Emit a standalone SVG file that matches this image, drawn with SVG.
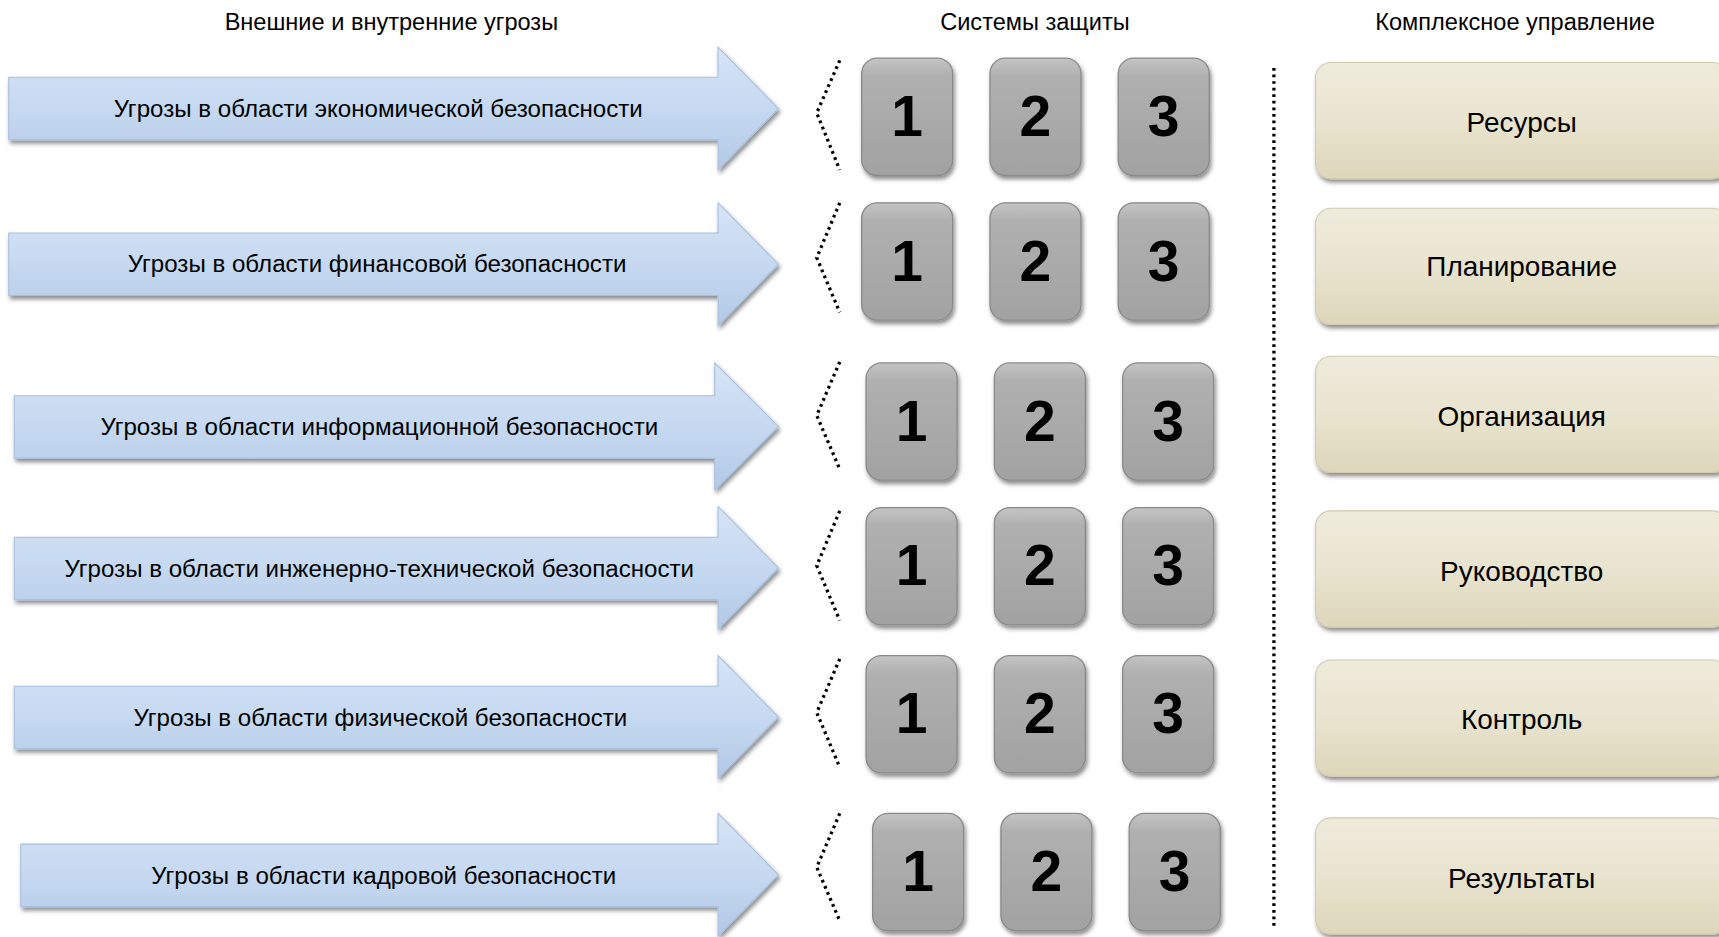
<svg xmlns="http://www.w3.org/2000/svg" width="1719" height="937" viewBox="0 0 1719 937">
<style>
.hdr{font-family:"Liberation Sans",Arial,sans-serif;font-size:21.5px;fill:#000;text-anchor:middle}
.atxt{font-family:"Liberation Sans",Arial,sans-serif;font-size:22px;fill:#000;text-anchor:middle}
.btxt{font-family:"Liberation Sans",Arial,sans-serif;font-size:25.5px;fill:#000;text-anchor:middle}
.num{font-family:"Liberation Sans",Arial,sans-serif;font-weight:bold;font-size:52px;fill:#000;text-anchor:middle}
.arrow{fill:url(#gArrow);stroke:#a7bfdf;stroke-width:1;filter:url(#sh)}
.gbox{fill:url(#gGray);stroke:#8a8a8a;stroke-width:1.2;filter:url(#sh)}
.bbox{fill:url(#gBeige);stroke:#d2cbb0;stroke-width:1;filter:url(#sh)}
.dots{fill:none;stroke:#000;stroke-width:3;stroke-dasharray:2.5 3.5}
</style>
<defs>
<linearGradient id="gArrow" x1="0" y1="0" x2="0" y2="1">
<stop offset="0" stop-color="#d6e4f5"/>
<stop offset="0.5" stop-color="#c6d9f1"/>
<stop offset="1" stop-color="#b2c8e5"/>
</linearGradient>
<linearGradient id="gGray" x1="0" y1="0" x2="0" y2="1">
<stop offset="0" stop-color="#c4c4c4"/>
<stop offset="0.15" stop-color="#b0b0b0"/>
<stop offset="1" stop-color="#a2a2a2"/>
</linearGradient>
<linearGradient id="gBeige" x1="0" y1="0" x2="0" y2="1">
<stop offset="0" stop-color="#efebdc"/>
<stop offset="0.5" stop-color="#e9e4cf"/>
<stop offset="1" stop-color="#ddd6ba"/>
</linearGradient>
<filter id="sh" x="-10%" y="-20%" width="130%" height="150%">
<feDropShadow dx="1.5" dy="3" stdDeviation="2" flood-color="#000" flood-opacity="0.45"/>
</filter>
</defs>
<rect width="1719" height="937" fill="#fff"/>
<g transform="scale(1.0963)">
<g id="headers">
<text class="hdr" x="357" y="27">Внешние и внутренние угрозы</text>
<text class="hdr" x="944" y="27">Системы защиты</text>
<text class="hdr" x="1382" y="27">Комплексное управление</text>
</g>

<g id="threat-1">
<path class="arrow" d="M8,70.5 H655 V43 L710,99 L655,155 V127.5 H8 Z"/>
<text class="atxt" x="345" y="106.5">Угрозы в области экономической безопасности</text>
</g>
<g id="threat-2">
<path class="arrow" d="M8,212.5 H655 V185 L710,241 L655,297 V269.5 H8 Z"/>
<text class="atxt" x="344" y="248.5">Угрозы в области финансовой безопасности</text>
</g>
<g id="threat-3">
<path class="arrow" d="M13,361 H652 V331 L710,389 L652,447 V418 H13 Z"/>
<text class="atxt" x="346" y="397">Угрозы в области информационной безопасности</text>
</g>
<g id="threat-4">
<path class="arrow" d="M13,490 H655 V462 L710,518 L655,574 V547 H13 Z"/>
<text class="atxt" x="346" y="526">Угрозы в области инженерно-технической безопасности</text>
</g>
<g id="threat-5">
<path class="arrow" d="M13,626 H655 V598 L710,654 L655,710 V683 H13 Z"/>
<text class="atxt" x="347" y="662">Угрозы в области физической безопасности</text>
</g>
<g id="threat-6">
<path class="arrow" d="M19,770 H655 V742 L710,798 L655,854 V827 H19 Z"/>
<text class="atxt" x="350" y="806">Угрозы в области кадровой безопасности</text>
</g>

<g id="connectors">
<polyline class="dots" points="766,55 745,103 766,155"/>
<polyline class="dots" points="766,185 745,235 766,285"/>
<polyline class="dots" points="766,330 745,379 766,428"/>
<polyline class="dots" points="766,466 745,516 766,566"/>
<polyline class="dots" points="766,601 745,650 766,700"/>
<polyline class="dots" points="766,742 745,791 766,840"/>
<line class="dots" x1="1162" y1="62" x2="1162" y2="846"/>
</g>

<g id="sys-1">
<rect class="gbox" x="786" y="53" width="83" height="107" rx="14"/><text class="num" x="827.5" y="124">1</text>
<rect class="gbox" x="903" y="53" width="83" height="107" rx="14"/><text class="num" x="944.5" y="124">2</text>
<rect class="gbox" x="1020" y="53" width="83" height="107" rx="14"/><text class="num" x="1061.5" y="124">3</text>
</g>
<g id="sys-2">
<rect class="gbox" x="786" y="185" width="83" height="107" rx="14"/><text class="num" x="827.5" y="256">1</text>
<rect class="gbox" x="903" y="185" width="83" height="107" rx="14"/><text class="num" x="944.5" y="256">2</text>
<rect class="gbox" x="1020" y="185" width="83" height="107" rx="14"/><text class="num" x="1061.5" y="256">3</text>
</g>
<g id="sys-3">
<rect class="gbox" x="790" y="331" width="83" height="107" rx="14"/><text class="num" x="831.5" y="402">1</text>
<rect class="gbox" x="907" y="331" width="83" height="107" rx="14"/><text class="num" x="948.5" y="402">2</text>
<rect class="gbox" x="1024" y="331" width="83" height="107" rx="14"/><text class="num" x="1065.5" y="402">3</text>
</g>
<g id="sys-4">
<rect class="gbox" x="790" y="463" width="83" height="107" rx="14"/><text class="num" x="831.5" y="534">1</text>
<rect class="gbox" x="907" y="463" width="83" height="107" rx="14"/><text class="num" x="948.5" y="534">2</text>
<rect class="gbox" x="1024" y="463" width="83" height="107" rx="14"/><text class="num" x="1065.5" y="534">3</text>
</g>
<g id="sys-5">
<rect class="gbox" x="790" y="598" width="83" height="107" rx="14"/><text class="num" x="831.5" y="669">1</text>
<rect class="gbox" x="907" y="598" width="83" height="107" rx="14"/><text class="num" x="948.5" y="669">2</text>
<rect class="gbox" x="1024" y="598" width="83" height="107" rx="14"/><text class="num" x="1065.5" y="669">3</text>
</g>
<g id="sys-6">
<rect class="gbox" x="796" y="742" width="83" height="107" rx="14"/><text class="num" x="837.5" y="813">1</text>
<rect class="gbox" x="913" y="742" width="83" height="107" rx="14"/><text class="num" x="954.5" y="813">2</text>
<rect class="gbox" x="1030" y="742" width="83" height="107" rx="14"/><text class="num" x="1071.5" y="813">3</text>
</g>

<g id="mgmt-1"><rect class="bbox" x="1200" y="57" width="376" height="106" rx="14"/><text class="btxt" x="1388" y="120">Ресурсы</text></g>
<g id="mgmt-2"><rect class="bbox" x="1200" y="190" width="376" height="106" rx="14"/><text class="btxt" x="1388" y="252">Планирование</text></g>
<g id="mgmt-3"><rect class="bbox" x="1200" y="325" width="376" height="106" rx="14"/><text class="btxt" x="1388" y="389">Организация</text></g>
<g id="mgmt-4"><rect class="bbox" x="1200" y="466" width="376" height="106" rx="14"/><text class="btxt" x="1388" y="530">Руководство</text></g>
<g id="mgmt-5"><rect class="bbox" x="1200" y="602" width="376" height="106" rx="14"/><text class="btxt" x="1388" y="665">Контроль</text></g>
<g id="mgmt-6"><rect class="bbox" x="1200" y="746" width="376" height="106" rx="14"/><text class="btxt" x="1388" y="810">Результаты</text></g>
</g>
</svg>
